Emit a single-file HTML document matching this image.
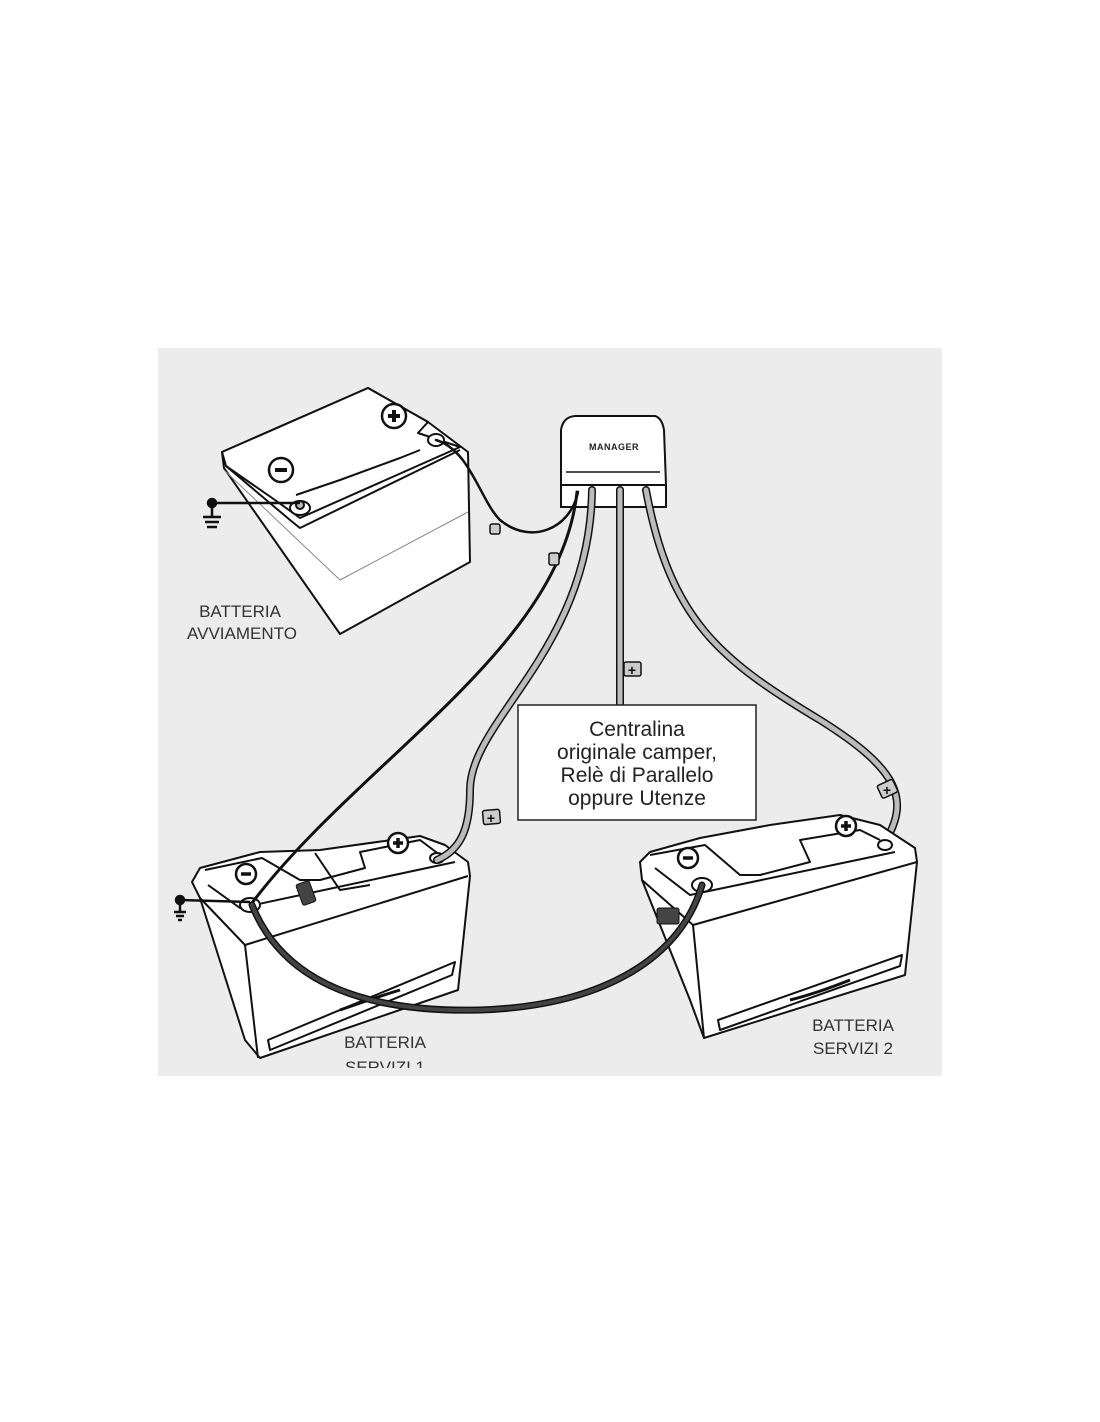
<!DOCTYPE html>
<html><head><meta charset="utf-8"><style>
html,body{margin:0;padding:0;background:#fff;width:1100px;height:1422px;overflow:hidden}
svg{position:absolute;left:0;top:0}
text{font-family:"Liberation Sans",sans-serif}
</style></head><body>
<svg width="1100" height="1422" viewBox="0 0 1100 1422" xmlns="http://www.w3.org/2000/svg">
<rect x="158" y="348" width="784" height="728" fill="#ececec"/>
<g stroke="#111" stroke-width="2" stroke-linejoin="round" fill="#fff">
<polygon points="222,452 368,388 428,422 468,452 470,562 340,634 224,468"/>
<polygon points="222,452 368,388 428,422 418,433 460,447 300,518 275,500 226,466" />
<path d="M226,466 L290,520 L300,528 L460,450" fill="none"/>
<path d="M224,470 L340,580 L468,512" fill="none" stroke="#888" stroke-width="1"/>
<path d="M296,495 L340,480 L400,458 L420,450" fill="none"/>
<ellipse cx="300" cy="508" rx="10" ry="7"/>
<circle cx="300" cy="505" r="4" fill="#bbb"/>
<ellipse cx="436" cy="440" rx="8" ry="6"/>
<circle cx="281" cy="470" r="12" stroke-width="2.5"/>
<line x1="275" y1="470" x2="287" y2="470" stroke-width="4"/>
<circle cx="394" cy="416" r="12" stroke-width="2.5"/>
<line x1="388" y1="416" x2="400" y2="416" stroke-width="4"/><line x1="394" y1="410" x2="394" y2="422" stroke-width="4"/>
</g>
<g stroke="#111" stroke-width="2.5">
<line x1="212" y1="503" x2="300" y2="503"/><circle cx="212" cy="503" r="4" fill="#111"/>
<line x1="212" y1="503" x2="212" y2="517"/>
<line x1="203" y1="517" x2="221" y2="517"/><line x1="205" y1="522" x2="219" y2="522"/><line x1="207" y1="527" x2="217" y2="527"/>
</g>
<text x="240" y="617" font-size="17" fill="#333" text-anchor="middle">BATTERIA</text>
<text x="242" y="639" font-size="17" fill="#333" text-anchor="middle">AVVIAMENTO</text>
<g stroke="#111" stroke-width="2" fill="#fff">
<path d="M561,485 L561,430 Q563,417 575,416 L655,416 Q662,418 664,430 L666,485 L666,500 L561,500 Z"/>
<path d="M561,485 L666,485" fill="none"/>
<path d="M566,472 L660,472" fill="none" stroke-width="1.5"/>
<rect x="561" y="485" width="105" height="22" fill="#fff"/>
</g>
<text x="614" y="450" font-size="9" font-weight="bold" fill="#222" text-anchor="middle" letter-spacing="0.5">MANAGER</text>
<g fill="none" stroke-linecap="round">
<path d="M620,490 L620,706" stroke="#111" stroke-width="8"/>
<path d="M620,490 L620,706" stroke="#bbb" stroke-width="5"/>
<path d="M646,490 C670,620 720,660 820,720 C900,770 910,800 885,842" stroke="#111" stroke-width="8"/>
<path d="M646,490 C670,620 720,660 820,720 C900,770 910,800 885,842" stroke="#bbb" stroke-width="5"/>
<path d="M436,440 C470,450 480,500 500,520 C530,545 570,530 578,492" stroke="#111" stroke-width="2.5"/>
</g>
<rect x="518" y="705" width="238" height="115" fill="#fff" stroke="#222" stroke-width="1.5"/>
<g font-size="21" fill="#222" text-anchor="middle">
<text x="637" y="736">Centralina</text>
<text x="637" y="759">originale camper,</text>
<text x="637" y="782">Relè di Parallelo</text>
<text x="637" y="805">oppure Utenze</text>
</g>
<g stroke="#111" stroke-width="2" stroke-linejoin="round" fill="#fff">
<polygon points="192,882 200,868 260,852 320,850 420,836 445,845 468,862 470,876 458,990 260,1058 245,1040 200,898"/>
<path d="M200,898 L245,945 L468,876" fill="none"/>
<path d="M245,945 L258,1058" fill="none"/>
<path d="M208,885 L240,908 L455,862" fill="none"/>
<path d="M205,870 L262,858 L300,880 L320,880 L365,868 L360,852 L420,840 L440,855" fill="none"/>
<path d="M315,853 L340,890 L370,885" fill="none"/>
<path d="M270,1050 L452,975 L455,962 L268,1040 Z"/>
<path d="M340,1010 C360,1003 380,996 400,990" fill="none" stroke-width="3"/>
<ellipse cx="250" cy="905" rx="10" ry="7"/>
<ellipse cx="437" cy="858" rx="7" ry="5"/>
<circle cx="246" cy="874" r="10" stroke-width="2.5"/><line x1="241" y1="874" x2="251" y2="874" stroke-width="3.5"/>
<circle cx="398" cy="843" r="10" stroke-width="2.5"/><line x1="393" y1="843" x2="403" y2="843" stroke-width="3.5"/><line x1="398" y1="838" x2="398" y2="848" stroke-width="3.5"/>
</g>
<g fill="none" stroke-linecap="round">
<path d="M592,490 C590,650 470,720 470,790 C470,830 460,850 437,860" stroke="#111" stroke-width="8"/>
<path d="M592,490 C590,650 470,720 470,790 C470,830 460,850 437,860" stroke="#bbb" stroke-width="5"/>
<path d="M577,492 C560,650 360,760 252,903" stroke="#111" stroke-width="3"/>
</g>
<rect x="299" y="882" width="14" height="22" rx="2" fill="#444" stroke="#111" transform="rotate(-20 306 893)"/>
<g stroke="#111" stroke-width="1.5" fill="#ccc">
<rect x="624" y="662" width="17" height="14" rx="2"/>
<rect x="483" y="810" width="17" height="14" rx="2" transform="rotate(-5 491 817)"/>
<rect x="879" y="782" width="17" height="14" rx="2" transform="rotate(-25 887 789)"/>
<rect x="549" y="553" width="10" height="12" rx="2"/>
<rect x="490" y="524" width="10" height="10" rx="2"/>
</g>
<g font-size="14" font-weight="bold" fill="#111" text-anchor="middle">
<text x="632" y="675">+</text><text x="491" y="823">+</text><text x="887" y="795">+</text>
</g>
<g stroke="#111" stroke-width="2.5">
<line x1="180" y1="900" x2="250" y2="902"/><circle cx="180" cy="900" r="4" fill="#111"/>
<line x1="180" y1="900" x2="180" y2="912"/>
<line x1="174" y1="912" x2="186" y2="912"/><line x1="176" y1="916" x2="184" y2="916"/><line x1="178" y1="920" x2="182" y2="920"/>
</g>
<g stroke="#111" stroke-width="2" stroke-linejoin="round" fill="#fff">
<polygon points="640,862 650,852 700,838 770,825 840,815 880,825 915,848 917,862 905,975 704,1038 690,1000 642,880"/>
<path d="M642,880 L693,925 L917,862" fill="none"/>
<path d="M693,925 L704,1038" fill="none"/>
<path d="M655,868 L690,895 L895,852" fill="none"/>
<path d="M650,855 L705,845 L740,875 L760,875 L810,862 L800,840 L860,830 L880,840" fill="none"/>
<path d="M720,1030 L900,966 L902,955 L718,1020 Z"/>
<path d="M790,1000 C810,995 830,988 850,980" fill="none" stroke-width="3"/>
<ellipse cx="702" cy="885" rx="10" ry="7"/>
<ellipse cx="885" cy="845" rx="7" ry="5"/>
<circle cx="688" cy="858" r="10" stroke-width="2.5"/><line x1="683" y1="858" x2="693" y2="858" stroke-width="3.5"/>
<circle cx="846" cy="826" r="10" stroke-width="2.5"/><line x1="841" y1="826" x2="851" y2="826" stroke-width="3.5"/><line x1="846" y1="821" x2="846" y2="831" stroke-width="3.5"/>
</g>
<rect x="657" y="908" width="22" height="16" rx="2" fill="#444" stroke="#111"/>
<path d="M252,905 C290,1000 400,1012 480,1010 C600,1006 680,960 702,885" fill="none" stroke="#111" stroke-width="7" stroke-linecap="round"/>
<path d="M252,905 C290,1000 400,1012 480,1010 C600,1006 680,960 702,885" fill="none" stroke="#444" stroke-width="4" stroke-linecap="round"/>
<g font-size="17" fill="#333" text-anchor="middle">
<text x="385" y="1048">BATTERIA</text>
<text x="385" y="1073">SERVIZI 1</text>
<text x="853" y="1031">BATTERIA</text>
<text x="853" y="1054">SERVIZI 2</text>
</g>
<rect x="158" y="1068" width="784" height="8" fill="#ececec"/>
<rect x="158" y="1076" width="784" height="20" fill="#fff"/>
</svg>
</body></html>
